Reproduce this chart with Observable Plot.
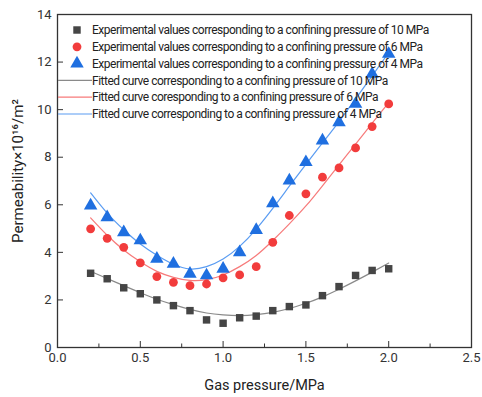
<!DOCTYPE html>
<html>
<head>
<meta charset="utf-8">
<script src="https://cdn.jsdelivr.net/npm/d3@7"></script>
<script src="https://cdn.jsdelivr.net/npm/@observablehq/plot@0.6"></script>
<style>
  html, body { margin: 0; padding: 0; background: #fff; }
  #chart { width: 482px; height: 397px; }
  svg { font-family: Roboto, "Noto Sans", sans-serif; }
</style>
</head>
<body>
<div id="chart"></div>
<script>
// ---- data ----
const gasPressure = [0.2,0.3,0.4,0.5,0.6,0.7,0.8,0.9,1.0,1.1,1.2,1.3,1.4,1.5,1.6,1.7,1.8,1.9,2.0];

const exp10 = [3.12,2.89,2.51,2.26,2.00,1.76,1.55,1.16,1.02,1.25,1.32,1.55,1.72,1.79,2.18,2.56,3.03,3.24,3.31];
const exp6  = [4.99,4.59,4.21,3.56,2.98,2.74,2.60,2.67,2.93,3.05,3.40,4.42,5.55,6.46,7.16,7.55,8.39,9.29,10.24];
const exp4  = [5.97,5.47,4.84,4.50,3.73,3.52,3.10,3.03,3.31,4.00,4.94,6.06,7.02,7.79,8.70,9.47,10.24,11.50,12.34];

const fit10 = [3.20,2.90,2.60,2.30,2.03,1.80,1.60,1.45,1.37,1.34,1.38,1.48,1.64,1.86,2.13,2.45,2.80,3.17,3.55];
const fit6  = [5.45,4.72,4.10,3.60,3.20,2.95,2.82,2.85,3.05,3.40,3.87,4.50,5.20,5.95,6.80,7.68,8.55,9.43,10.30];
const fit4  = [6.50,5.65,4.95,4.35,3.88,3.50,3.30,3.40,3.72,4.25,4.98,5.85,6.78,7.70,8.60,9.50,10.45,11.42,12.40];

const xTicks = [0,0.5,1.0,1.5,2.0,2.5];
const xMinorTicks = [0.25,0.75,1.25,1.75,2.25];
const yTicks = [0,2,4,6,8,10,12,14];

const legendLabels = [
  "Experimental values corresponding to a confining pressure of 10 MPa",
  "Experimental values corresponding to a confining pressure of 6 MPa",
  "Experimental values corresponding to a confining pressure of 4 MPa",
  "Fitted curve corresponding to a confining pressure of 10 MPa",
  "Fitted curve coresponding to a confining pressure of 6 MPa",
  "Fitted curve corresponding to a confining pressure of 4 MPa"
];

const xLabel = "Gas pressure/MPa";
const yLabel = "Permeability×10¹⁶/m²";

// ---- styles ----
const C10 = "#454545", C6 = "#f23c3c", C4 = "#1f6fe0";
const L10 = "#8a8a8a", L6 = "#f77a7a", L4 = "#5a9cf2";

const pts = (ys) => gasPressure.map((x, i) => ({x, y: ys[i]}));

const W = 482, H = 397;
const chart = Plot.plot({
  width: W, height: H,
  marginLeft: 57, marginRight: 11, marginTop: 14, marginBottom: 50,
  style: {fontFamily: "Roboto, sans-serif", fontSize: "13px", color: "#333", background: "#fff"},
  x: {domain: [0, 2.5]},
  y: {domain: [0, 14]},
  marks: [
    Plot.line(pts(fit10), {x: "x", y: "y", stroke: L10, strokeWidth: 1.2, curve: "natural"}),
    Plot.line(pts(fit6),  {x: "x", y: "y", stroke: L6,  strokeWidth: 1.2, curve: "natural"}),
    Plot.line(pts(fit4),  {x: "x", y: "y", stroke: L4,  strokeWidth: 1.2, curve: "natural"}),
    Plot.dot(pts(exp10), {x: "x", y: "y", symbol: "square", r: 4.2, fill: C10}),
    Plot.dot(pts(exp6),  {x: "x", y: "y", symbol: "circle", r: 4.4, fill: C6}),
    Plot.dot(pts(exp4),  {x: "x", y: "y", symbol: "triangle", r: 5.0, fill: C4}),
    Plot.axisX({ticks: xTicks, tickSize: -6, tickFormat: d3.format(".1f"), tickPadding: 11, label: null, stroke: "#333"}),
    Plot.axisX({ticks: xMinorTicks, tickSize: -3.5, tickFormat: () => "", label: null, stroke: "#333"}),
    Plot.axisY({ticks: yTicks, tickSize: -6, tickPadding: 12, label: null, stroke: "#333"}),
    Plot.frame({stroke: "#333", strokeWidth: 1.3}),
    Plot.text([xLabel], {frameAnchor: "bottom", dy: 38, lineAnchor: "middle", textAnchor: "middle",
      fontSize: 14.5, fill: "#222", letterSpacing: -0.6}),
    Plot.text([yLabel], {frameAnchor: "left", dx: -39, dy: -10, rotate: -90, lineAnchor: "middle", textAnchor: "middle",
      fontSize: 15, fill: "#222", letterSpacing: -0.4})
  ]
});

document.getElementById("chart").appendChild(chart);

// ---- legend (inside the plot area, top-left) ----
const svg = d3.select(chart);
const lg = svg.append("g")
  .attr("font-family", "Roboto, sans-serif")
  .attr("font-size", 12)
  .attr("fill", "#222")
  .attr("text-anchor", "start");
const rowY0 = 30, rowH = 16.8, markX = 77, textX = 92;
const legendMarks = [
  {type: "sym", symbol: d3.symbolSquare, size: 4.2*4.2*Math.PI, color: C10},
  {type: "sym", symbol: d3.symbolCircle, size: 4.4*4.4*Math.PI, color: C6},
  {type: "sym", symbol: d3.symbolTriangle, size: 5.0*5.0*Math.PI, color: C4},
  {type: "line", color: L10},
  {type: "line", color: L6},
  {type: "line", color: L4}
];
legendLabels.forEach((label, i) => {
  const y = rowY0 + i * rowH;
  const m = legendMarks[i];
  if (m.type === "sym") {
    lg.append("path").attr("d", d3.symbol(m.symbol, m.size)()).attr("transform", `translate(${markX},${y})`).attr("fill", m.color);
  } else {
    lg.append("line").attr("x1", 58).attr("x2", textX).attr("y1", y).attr("y2", y).attr("stroke", m.color).attr("stroke-width", 1.2);
  }
  lg.append("text").attr("x", textX).attr("y", y).attr("dy", "0.35em")
    .attr("text-anchor", "start").attr("letter-spacing", -0.5).text(label);
});
</script>
</body>
</html>
